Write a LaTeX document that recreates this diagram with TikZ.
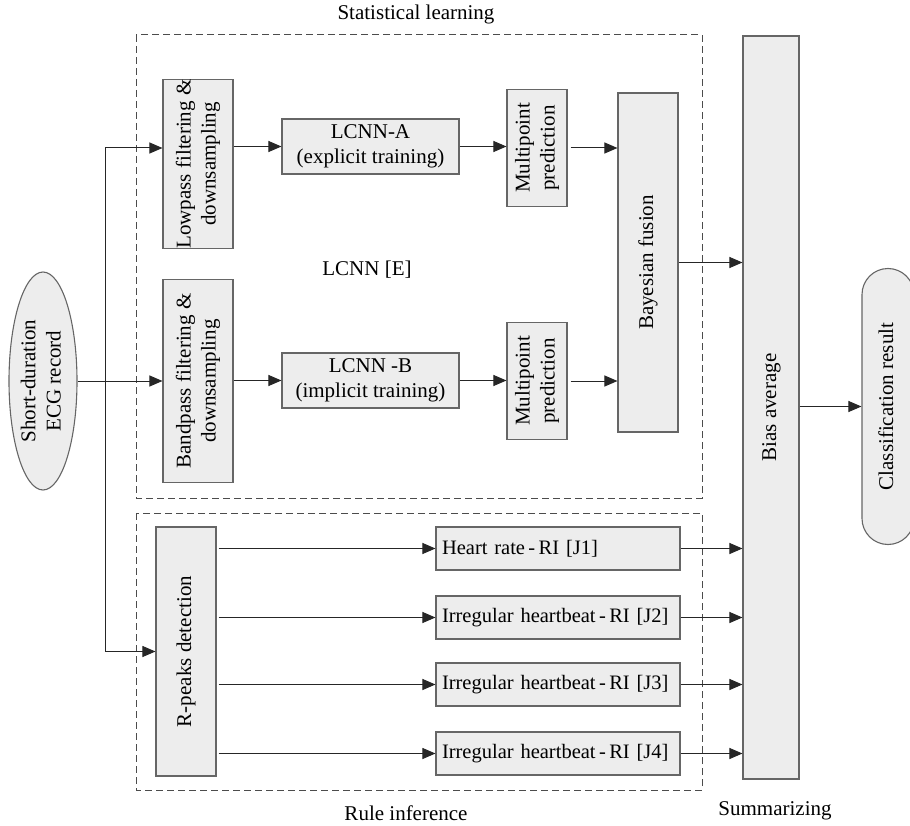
\documentclass[tikz,border=0pt]{standalone}
\usepackage{fontspec}
\setmainfont{Liberation Serif}
\usepackage{graphicx}
\usetikzlibrary{arrows.meta,shapes.geometric}

\newcommand{\vtext}[1]{\rotatebox{90}{\begin{tabular}{@{}c@{}}#1\end{tabular}}}

\tikzset{
  blk/.style={draw=black!60, fill=black!7, line width=1.1pt, inner sep=0pt},
  rulebox/.style={blk, inner xsep=6pt, text width=232pt, align=left, minimum height=43pt, font=\fontsize{20.5}{25}\selectfont},
  arr/.style={-{Triangle[length=13pt,width=11pt]}, line width=1pt, draw=black!85},
  grp/.style={draw=black!70, line width=1pt, dash pattern=on 7pt off 4pt},
}

\begin{document}
\begin{tikzpicture}[x=1pt,y=-1pt,font=\fontsize{21}{25}\selectfont]

\useasboundingbox (0,0) rectangle (910,826);

\draw[grp] (136,35) rectangle (702,498);

\draw[grp] (136,513) rectangle (702,790);

\node (statlbl) at (416,14) {Statistical learning};

\node (lcnnlbl) at (367,270) {LCNN [E]};

\node (rulelbl) at (406,813) {Rule inference};

\node (sumlbl) at (775,811) {Summarizing};

\node[blk, shape=ellipse, inner sep=-3pt, minimum width=68pt, minimum height=218pt] (ecg) at (43,381) {\vtext{Short-duration\\ECG record}};

\node[blk, minimum width=70pt, minimum height=168pt] (lowpass) at (198,164) {\vtext{Lowpass filtering \&\\downsampling}};

\node[blk, minimum width=70pt, minimum height=203pt] (bandpass) at (198,381) {\vtext{Bandpass filtering \&\\downsampling}};

\node[blk, align=center, minimum width=177pt, minimum height=55pt] (lcnnA) at (370.5,146.5) {LCNN-A\\(explicit training)};

\node[blk, align=center, minimum width=177pt, minimum height=55pt] (lcnnB) at (370.5,380.5) {LCNN -B\\(implicit training)};

\node[blk, minimum width=60pt, minimum height=117pt] (multiA) at (537,148) {\vtext{Multipoint\\prediction}};

\node[blk, minimum width=60pt, minimum height=117pt] (multiB) at (537,381) {\vtext{Multipoint\\prediction}};

\node[blk, minimum width=60pt, minimum height=339pt] (bayes) at (648,262.5) {\vtext{Bayesian fusion}};

\node[blk, minimum width=56pt, minimum height=743pt] (bias) at (771,407.5) {\vtext{Bias average}};

\node[blk, rounded corners=26pt, minimum width=52pt, minimum height=276pt] (class) at (888,406.5) {\vtext{Classification result}};

\node[blk, minimum width=60pt, minimum height=249pt] (rpeak) at (186,651.5) {\vtext{R-peaks detection}};

\node[rulebox] (j1) at (558,548.5) {Heart rate\,-\,RI [J1]};

\node[rulebox] (j2) at (558,617.5) {Irregular heartbeat\,-\,RI [J2]};

\node[rulebox] (j3) at (558,684.5) {Irregular heartbeat\,-\,RI [J3]};

\node[rulebox] (j4) at (558,753.5) {Irregular heartbeat\,-\,RI [J4]};

\coordinate (bustop) at (105,148);

\draw[arr] (ecg.east) -- (bandpass.west);

\draw[arr] (bustop) -- (bustop -| lowpass.west);

\draw[arr] (bustop) |- (rpeak.west);

\draw[arr] (lowpass.east |- lcnnA.west) -- (lcnnA.west);

\draw[arr] (bandpass.east |- lcnnB.west) -- (lcnnB.west);

\draw[arr] (lcnnA.east) -- (multiA.west |- lcnnA.east);

\draw[arr] (lcnnB.east) -- (multiB.west |- lcnnB.east);

\draw[arr, shorten <=3pt] (multiA.east) -- (bayes.west |- multiA.east);

\draw[arr, shorten <=3pt] (multiB.east) -- (bayes.west |- multiB.east);

\draw[arr] (bayes.east) -- (bias.west |- bayes.east);

\draw[arr, shorten <=2pt] (rpeak.east |- j1.west) -- (j1.west);

\draw[arr, shorten <=2pt] (rpeak.east |- j2.west) -- (j2.west);

\draw[arr, shorten <=2pt] (rpeak.east |- j3.west) -- (j3.west);

\draw[arr, shorten <=2pt] (rpeak.east |- j4.west) -- (j4.west);

\draw[arr] (j1.east) -- (bias.west |- j1.east);

\draw[arr] (j2.east) -- (bias.west |- j2.east);

\draw[arr] (j3.east) -- (bias.west |- j3.east);

\draw[arr] (j4.east) -- (bias.west |- j4.east);

\draw[arr] (bias.east |- class.west) -- (class.west);

\end{tikzpicture}
\end{document}
